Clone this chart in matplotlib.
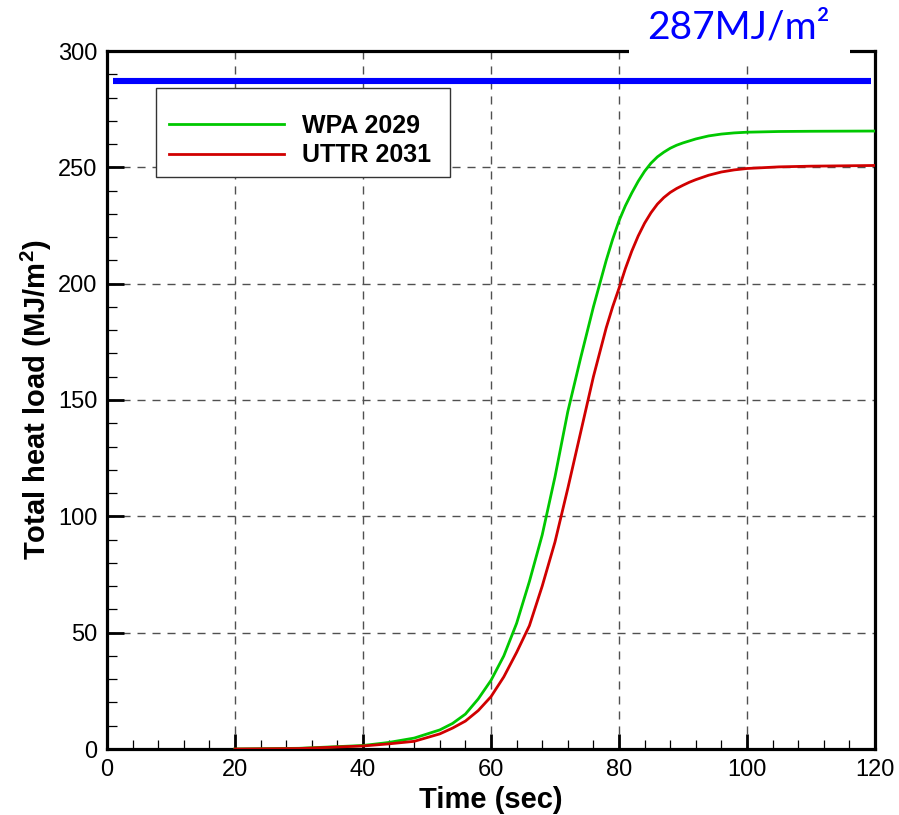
import matplotlib
matplotlib.use("Agg")
import matplotlib.pyplot as plt
from matplotlib.patches import Rectangle
from matplotlib.ticker import MultipleLocator

# ---- data ----
time_wpa = [20, 30, 40, 44, 48, 52, 54, 56, 58, 60, 62, 64, 66, 68, 70, 72, 74, 76, 78, 79,
            80, 81, 82, 83, 84, 85, 86, 87, 88, 89, 90, 92, 94, 96, 98, 100, 105, 110, 120]
load_wpa = [0, 0.3, 1.5, 2.8, 4.7, 8.2, 11, 15, 21.5, 29.5, 40, 54, 72, 92, 117, 145, 168, 190, 210, 219,
            227, 233.5, 239, 244, 248.3, 251.8, 254.5, 256.5, 258.2, 259.5, 260.5, 262.2, 263.5, 264.3,
            264.8, 265.1, 265.4, 265.5, 265.6]
time_uttr = [20, 30, 40, 44, 48, 52, 54, 56, 58, 60, 62, 64, 66, 68, 70, 72, 74, 76, 78, 79,
             80, 81, 82, 83, 84, 85, 86, 87, 88, 89, 90, 91, 92, 94, 96, 98, 100, 105, 110, 120]
load_uttr = [0, 0.2, 1.3, 2.2, 3.3, 6.5, 9, 12, 16.5, 22.5, 31, 41.5, 53, 70, 89, 112, 136, 160, 181, 190,
             198, 206.5, 214, 220.5, 226, 230.5, 234.2, 237, 239.2, 240.9, 242.3, 243.6, 244.7, 246.6,
             248.0, 248.9, 249.5, 250.2, 250.5, 250.8]
series_labels = ["WPA 2029", "UTTR 2031"]
limit_value = 287
limit_x = [1, 119.3]
limit_text = "287MJ/m²"
x_ticks = [0, 20, 40, 60, 80, 100, 120]
y_ticks = [0, 50, 100, 150, 200, 250, 300]

plt.rcParams['font.family'] = ['Liberation Sans', 'DejaVu Sans']
plt.rcParams['mathtext.fontset'] = 'custom'
plt.rcParams['mathtext.rm'] = 'Liberation Sans'
plt.rcParams['mathtext.bf'] = 'Liberation Sans:bold'

W, H = 899, 815
fig = plt.figure(figsize=(W / 100, H / 100), dpi=100)
ax = fig.add_axes([107 / W, 1 - 749 / H, (875 - 107) / W, (749 - 51) / H])
AW, AH = 875 - 107, 749 - 51

def axx(px):
    return (px - 107) / AW

def axy(py):
    return (749 - py) / AH

ax.set_xlim(0, 120)
ax.set_ylim(0, 300)
ax.set_xticks(x_ticks)
ax.set_yticks(y_ticks)
ax.xaxis.set_minor_locator(MultipleLocator(4))
ax.yaxis.set_minor_locator(MultipleLocator(10))
ax.tick_params(which='major', direction='in', length=12, width=2.0, labelsize=17, pad=7)
ax.tick_params(which='minor', direction='in', length=7, width=0.9)
ax.tick_params(axis='x', which='major', length=11)
ax.tick_params(axis='x', which='minor', length=6.5)

for s in ax.spines.values():
    s.set_linewidth(2.3)
    s.set_color('black')

ax.grid(True, which='major', color='#505050', linewidth=1.0, linestyle=(0, (5.8, 5)))
ax.set_axisbelow(True)

ax.plot(limit_x, [limit_value, limit_value], color='#0000FF', linewidth=4.4, solid_capstyle='butt', zorder=3)
l1, = ax.plot(time_wpa, load_wpa, color='#00C800', linewidth=2.0, label=series_labels[0], zorder=4)
l2, = ax.plot(time_uttr, load_uttr, color='#D00000', linewidth=2.0, label=series_labels[1], zorder=4)

# legend frame drawn separately to match the reference padding
ax.add_patch(Rectangle((axx(156), axy(177)), axx(450) - axx(156), axy(88) - axy(177),
                       transform=ax.transAxes, facecolor='white', edgecolor='#333333',
                       linewidth=1.0, zorder=5))
leg = ax.legend(handles=[l1, l2], loc='upper left', bbox_to_anchor=(axx(169), axy(114)),
                frameon=False,
                prop={'family': 'Liberation Sans', 'weight': 'bold', 'size': 18},
                handlelength=4.6, handletextpad=0.7, borderpad=0, labelspacing=0.22,
                borderaxespad=0)
leg.set_zorder(6)

ax.set_xlabel('Time (sec)', fontsize=21, fontweight='bold', labelpad=4)
ax.set_ylabel('Total heat load (MJ/m$^{\\mathbf{2}}$)', fontsize=21, fontweight='bold', labelpad=3)

# white gap in the top frame with the limit annotation
fig.patches.append(Rectangle((629 / W, 1 - 60 / H), (850 - 629) / W, 20 / H,
                             transform=fig.transFigure, facecolor='white', edgecolor='none', zorder=3))
fig.text(738 / W, 1 - 28 / H, limit_text, color='#0000FF', fontsize=28, family=['Lato', 'DejaVu Sans'],
         ha='center', va='center', zorder=4)

fig.savefig('out.png', dpi=100)
